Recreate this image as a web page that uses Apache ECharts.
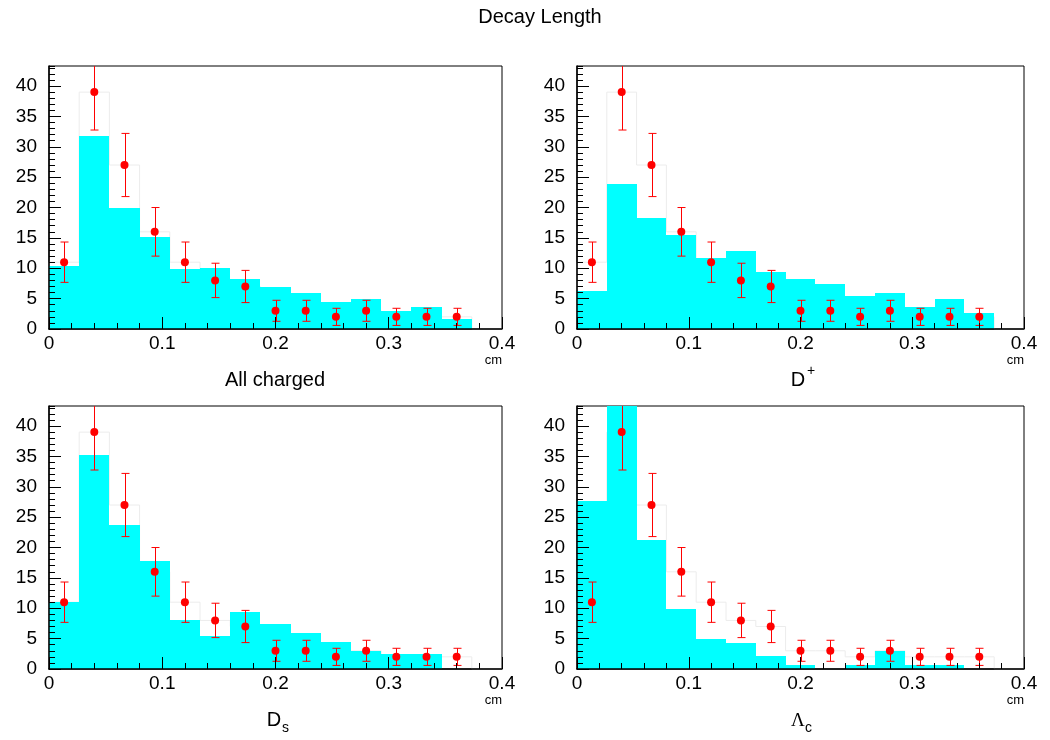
<!DOCTYPE html>
<html>
<head>
<meta charset="utf-8">
<script src="https://cdn.jsdelivr.net/npm/echarts@6/dist/echarts.min.js"></script>
<style>
  html, body { margin: 0; padding: 0; background: #fff; }
  #chart { width: 1050px; height: 740px; }
</style>
</head>
<body>
<div id="chart"></div>
<script>
// Decay-length histograms: 15 bins over [0, 0.4] cm
const X_MIN = 0;
const X_MAX = 0.4;
const N_BINS = 15;
const Y_MAX = 43.3;

const panelTitles = ['All charged', 'D+', 'Ds', 'Λc'];

// Measured counts (bins 1..14) and their errors
const dataCounts = [11, 39, 27, 16, 11, 8, 7, 3, 3, 2, 3, 2, 2, 2];
const dataErrors = [3.32, 6.24, 5.20, 4.00, 3.32, 2.83, 2.65, 1.73, 1.73, 1.41, 1.73, 1.41, 1.41, 1.41];

// Simulated distributions (bins 1..15)
const mcAllCharged = [10.4, 31.8, 19.9, 15.1, 9.9, 10.0, 8.3, 6.9, 5.9, 4.5, 4.9, 3.0, 3.7, 1.7, 0];
const mcDplus      = [6.2, 23.8, 18.3, 15.5, 11.7, 12.9, 9.4, 8.2, 7.4, 5.5, 6.0, 3.7, 4.9, 2.7, 0];
const mcDs         = [11.0, 35.2, 23.7, 17.8, 8.0, 5.4, 9.4, 7.4, 5.9, 4.4, 2.9, 2.5, 2.5, 0, 0];
const mcLambdaC    = [27.7, 47.0, 21.3, 9.9, 4.9, 4.2, 2.1, 0.66, 0, 0.66, 2.9, 0.66, 0.66, 0, 0];

const mcSets = [mcAllCharged, mcDplus, mcDs, mcLambdaC];

const FONT = "'Liberation Sans', Arial, Helvetica, sans-serif";
const RED = '#ff0000';
const CYAN = '#00ffff';
const BIN_W = (X_MAX - X_MIN) / N_BINS;

const grids = [
  { left: 49,  top: 66,  width: 453, height: 263 },
  { left: 577, top: 66,  width: 447, height: 263 },
  { left: 49,  top: 406, width: 453, height: 263 },
  { left: 577, top: 406, width: 447, height: 263 }
];

function histItems(values) {
  return values.map((v, i) => [X_MIN + i * BIN_W, X_MIN + (i + 1) * BIN_W, v]);
}

// filled bin, snapped to whole pixels so neighbouring bins join without seams
function renderBin(params, api) {
  const x0 = api.value(0), x1 = api.value(1), v = Math.min(api.value(2), Y_MAX);
  if (v <= 0) return null;
  const p0 = api.coord([x0, v]);
  const p1 = api.coord([x1, 0]);
  const left = Math.round(p0[0]), right = Math.round(p1[0]);
  const top = Math.round(p0[1]), bottom = Math.round(p1[1]);
  return {
    type: 'rect',
    shape: { x: left, y: top, width: right - left, height: bottom - top },
    style: { fill: CYAN }
  };
}

// faint step outline of the measured histogram, drawn beneath the filled one
function outlineItems(values) {
  const full = values.concat([0]);
  return full.map((v, i) => [X_MIN + i * BIN_W, X_MIN + (i + 1) * BIN_W, v, i > 0 ? full[i - 1] : 0]);
}
function renderOutline(params, api) {
  const x0 = api.value(0), x1 = api.value(1);
  const v = Math.min(api.value(2), Y_MAX), prev = Math.min(api.value(3), Y_MAX);
  const a = api.coord([x0, prev]);
  const b = api.coord([x0, v]);
  const c = api.coord([x1, v]);
  return {
    type: 'polyline',
    shape: { points: [a, b, c] },
    style: { stroke: '#ececec', lineWidth: 1, fill: null }
  };
}

function errItems() {
  return dataCounts.map((v, i) => [X_MIN + (i + 0.5) * BIN_W, v - dataErrors[i], v + dataErrors[i]]);
}
function renderErr(params, api) {
  const x = api.value(0);
  const lo = Math.max(api.value(1), 0);
  const hi = api.value(2);
  const pLo = api.coord([x, lo]);
  const pHi = api.coord([x, Math.min(hi, Y_MAX)]);
  const cx = Math.round(pLo[0]) + 0.5;
  const st = { stroke: RED, lineWidth: 1 };
  const kids = [
    { type: 'line', shape: { x1: cx, y1: pLo[1], x2: cx, y2: pHi[1] }, style: st },
    { type: 'line', shape: { x1: cx - 4, y1: pLo[1], x2: cx + 4, y2: pLo[1] }, style: st }
  ];
  if (hi <= Y_MAX) {
    kids.push({ type: 'line', shape: { x1: cx - 4, y1: pHi[1], x2: cx + 4, y2: pHi[1] }, style: st });
  }
  return { type: 'group', children: kids };
}

const xAxes = [], yAxes = [], series = [];
grids.forEach((g, p) => {
  xAxes.push({
    gridIndex: p, type: 'value', min: X_MIN, max: X_MAX, interval: 0.1, position: 'bottom', z: 5,
    axisLine: { show: true, lineStyle: { color: '#000', width: 1.5 } },
    axisTick: { show: true, inside: true, length: 12, lineStyle: { color: '#000' } },
    axisLabel: { fontSize: 19, color: '#000', fontFamily: FONT, margin: 5 },
    splitLine: { show: false }
  });
  xAxes.push({
    gridIndex: p, type: 'value', min: X_MIN, max: X_MAX, interval: 0.02, position: 'bottom', z: 5,
    axisLine: { show: false },
    axisTick: { show: true, inside: true, length: 6, lineStyle: { color: '#000' } },
    axisLabel: { show: false }, splitLine: { show: false }
  });
  yAxes.push({
    gridIndex: p, type: 'value', min: 0, max: Y_MAX, interval: 5, position: 'left', z: 5,
    axisLine: { show: true, lineStyle: { color: '#000', width: 1.5 } },
    axisTick: { show: true, inside: true, length: 12, lineStyle: { color: '#000' } },
    axisLabel: {
      fontSize: 19, color: '#000', fontFamily: FONT, margin: 12, showMaxLabel: false,
      formatter: v => (Math.abs(v % 5) < 1e-9 ? String(v) : '')
    },
    splitLine: { show: false }
  });
  yAxes.push({
    gridIndex: p, type: 'value', min: 0, max: Y_MAX, interval: 1, position: 'left', z: 5,
    axisLine: { show: false },
    axisTick: { show: true, inside: true, length: 6, lineStyle: { color: '#000' } },
    axisLabel: { show: false }, splitLine: { show: false }
  });

  series.push({
    type: 'custom', name: 'data outline', xAxisIndex: 2 * p, yAxisIndex: 2 * p, z: 1,
    data: outlineItems(dataCounts), encode: { x: [0, 1], y: 2 },
    renderItem: renderOutline, silent: true
  });
  series.push({
    type: 'custom', name: 'sim ' + panelTitles[p], xAxisIndex: 2 * p, yAxisIndex: 2 * p, z: 2,
    data: histItems(mcSets[p]), encode: { x: [0, 1], y: 2 },
    renderItem: renderBin, silent: true
  });
  series.push({
    type: 'custom', name: 'errors', xAxisIndex: 2 * p, yAxisIndex: 2 * p, z: 3,
    data: errItems(), encode: { x: 0, y: [1, 2] },
    renderItem: renderErr, silent: true
  });
  series.push({
    type: 'scatter', name: 'data', xAxisIndex: 2 * p, yAxisIndex: 2 * p, z: 4,
    data: dataCounts.map((v, i) => [X_MIN + (i + 0.5) * BIN_W, v]),
    symbol: 'circle', symbolSize: 8, itemStyle: { color: RED, opacity: 1 }, silent: true
  });
});

function txt(text, x, y, size, opts) {
  return Object.assign({
    type: 'text', x: x, y: y, silent: true,
    style: { text: text, font: size + 'px ' + FONT, fill: '#000', align: 'center', verticalAlign: 'middle' }
  }, opts || {});
}

const graphics = [
  txt('Decay Length', 540, 17, 20),
  // panel captions
  txt('All charged', 275, 380, 20),
  txt('D', 798, 380, 20),
  { type: 'text', x: 807, y: 371, silent: true,
    style: { text: '+', font: '14px ' + FONT, fill: '#000', align: 'left', verticalAlign: 'middle' } },
  txt('D', 274, 720, 20),
  { type: 'text', x: 282, y: 728, silent: true,
    style: { text: 's', font: '14px ' + FONT, fill: '#000', align: 'left', verticalAlign: 'middle' } },
  { type: 'text', x: 798, y: 721, silent: true,
    style: { text: 'Λ', font: '19px "Liberation Serif", serif', fill: '#000', align: 'center', verticalAlign: 'middle' } },
  { type: 'text', x: 805, y: 728, silent: true,
    style: { text: 'c', font: '14px ' + FONT, fill: '#000', align: 'left', verticalAlign: 'middle' } }
];
// axis unit labels
[[502, 360], [1024, 360], [502, 700], [1024, 700]].forEach(([x, y]) => {
  graphics.push({ type: 'text', x: x, y: y, silent: true,
    style: { text: 'cm', font: '13px ' + FONT, fill: '#000', align: 'right', verticalAlign: 'middle' } });
});

const chart = echarts.init(document.getElementById('chart'), null, { renderer: 'canvas' });
chart.setOption({
  backgroundColor: '#fff',
  animation: false,
  grid: grids.map(g => Object.assign({ show: true, borderColor: '#000', borderWidth: 1, backgroundColor: 'transparent' }, g)),
  xAxis: xAxes,
  yAxis: yAxes,
  series: series,
  graphic: { elements: graphics }
});
</script>
</body>
</html>
